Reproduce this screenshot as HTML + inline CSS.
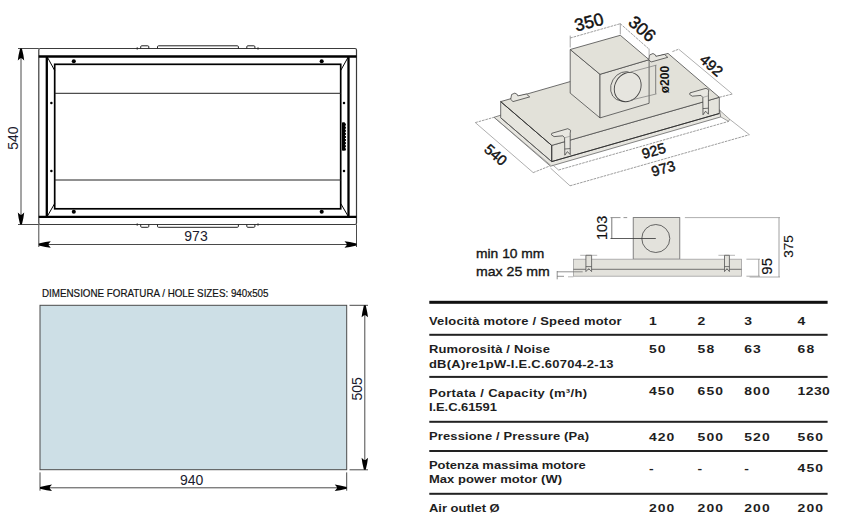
<!DOCTYPE html>
<html><head><meta charset="utf-8"><style>
html,body{margin:0;padding:0;background:#fff;width:865px;height:526px;overflow:hidden}
svg{display:block;position:absolute;left:0;top:0}
</style></head><body>
<svg width="865" height="526" viewBox="0 0 865 526">
<line x1="18" y1="48.5" x2="38.8" y2="48.5" stroke="#4a4a4a" stroke-width="1"/>
<line x1="18" y1="224.5" x2="38.8" y2="224.5" stroke="#4a4a4a" stroke-width="1"/>
<line x1="21" y1="50" x2="21" y2="223" stroke="#4a4a4a" stroke-width="1"/>
<path d="M21.90,48.50 L23.40,55.10 L24.20,60.50 L21.70,58.34 L20.30,58.34 L17.80,60.50 L18.60,55.10 L20.10,48.50 Z" fill="#000"/>
<path d="M20.10,224.50 L18.60,217.90 L17.80,212.50 L20.30,214.66 L21.70,214.66 L24.20,212.50 L23.40,217.90 L21.90,224.50 Z" fill="#000"/>
<text x="0" y="0" transform="translate(18.3,138.2) rotate(-90)" text-anchor="middle" font-family='"Liberation Sans", sans-serif' font-size="14" fill="#1b1b2e">540</text>
<line x1="38.8" y1="224.5" x2="38.8" y2="247" stroke="#4a4a4a" stroke-width="1"/>
<line x1="356.5" y1="224.5" x2="356.5" y2="247" stroke="#4a4a4a" stroke-width="1"/>
<line x1="40" y1="244.5" x2="355" y2="244.5" stroke="#4a4a4a" stroke-width="1"/>
<path d="M38.80,243.60 L45.40,242.10 L50.80,241.30 L48.64,243.80 L48.64,245.20 L50.80,247.70 L45.40,246.90 L38.80,245.40 Z" fill="#000"/>
<path d="M356.50,245.40 L349.90,246.90 L344.50,247.70 L346.66,245.20 L346.66,243.80 L344.50,241.30 L349.90,242.10 L356.50,243.60 Z" fill="#000"/>
<text x="196" y="241" text-anchor="middle" font-family='"Liberation Sans", sans-serif' font-size="14" fill="#1b1b2e">973</text>
<rect x="38.8" y="48.5" width="317.7" height="176" rx="1.5" fill="none" stroke="#3a3a3a" stroke-width="1.2"/>
<path d="M140.7,48.5 L140.7,46.8 Q140.7,45.8 141.7,45.8 L147.8,45.8 Q148.8,45.8 148.8,46.8 L148.8,48.5" fill="none" stroke="#222" stroke-width="1"/>
<path d="M140.7,224.5 L140.7,226.3 Q140.7,227.3 141.7,227.3 L147.8,227.3 Q148.8,227.3 148.8,226.3 L148.8,224.5" fill="none" stroke="#222" stroke-width="1"/>
<path d="M157.5,48.5 L157.5,46.8 Q157.5,45.8 158.5,45.8 L237.4,45.8 Q238.4,45.8 238.4,46.8 L238.4,48.5" fill="none" stroke="#222" stroke-width="1"/>
<path d="M157.5,224.5 L157.5,226.3 Q157.5,227.3 158.5,227.3 L237.4,227.3 Q238.4,227.3 238.4,226.3 L238.4,224.5" fill="none" stroke="#222" stroke-width="1"/>
<path d="M246.8,48.5 L246.8,46.8 Q246.8,45.8 247.8,45.8 L253.9,45.8 Q254.9,45.8 254.9,46.8 L254.9,48.5" fill="none" stroke="#222" stroke-width="1"/>
<path d="M246.8,224.5 L246.8,226.3 Q246.8,227.3 247.8,227.3 L253.9,227.3 Q254.9,227.3 254.9,226.3 L254.9,224.5" fill="none" stroke="#222" stroke-width="1"/>
<line x1="137.2" y1="47.3" x2="137.2" y2="49.6" stroke="#222" stroke-width="1"/>
<line x1="137.2" y1="223.4" x2="137.2" y2="225.7" stroke="#222" stroke-width="1"/>
<line x1="258.0" y1="47.3" x2="258.0" y2="49.6" stroke="#222" stroke-width="1"/>
<line x1="258.0" y1="223.4" x2="258.0" y2="225.7" stroke="#222" stroke-width="1"/>
<line x1="38.8" y1="56.5" x2="356.5" y2="56.5" stroke="#000" stroke-width="2.3"/>
<line x1="38.8" y1="216.8" x2="356.5" y2="216.8" stroke="#000" stroke-width="2.3"/>
<line x1="46.8" y1="56.5" x2="46.8" y2="216.8" stroke="#000" stroke-width="2.3"/>
<line x1="348.5" y1="56.5" x2="348.5" y2="216.8" stroke="#000" stroke-width="2.3"/>
<rect x="54.7" y="64.3" width="286" height="144.5" fill="none" stroke="#000" stroke-width="1.7"/>
<line x1="54.7" y1="93.3" x2="340.7" y2="93.3" stroke="#222" stroke-width="1"/>
<line x1="54.7" y1="180" x2="340.7" y2="180" stroke="#222" stroke-width="1"/>
<path d="M47,56.5 L54.7,70.5 M348.5,56.5 L340.7,70.5 M47,216.8 L54.7,203.5 M348.5,216.8 L340.7,203.5" stroke="#000" stroke-width="1"/>
<circle cx="73.8" cy="61.3" r="2.05" fill="#000"/>
<circle cx="321.7" cy="61.3" r="2.05" fill="#000"/>
<circle cx="73.8" cy="211.8" r="2.05" fill="#000"/>
<circle cx="321.7" cy="211.8" r="2.05" fill="#000"/>
<circle cx="51.4" cy="103" r="1.25" fill="#000"/>
<circle cx="344" cy="103" r="1.25" fill="#000"/>
<circle cx="51.4" cy="171" r="1.25" fill="#000"/>
<circle cx="344" cy="171" r="1.25" fill="#000"/>
<rect x="342.0" y="122.3" width="3.0" height="28.5" rx="0.8" fill="#000"/>
<rect x="344.6" y="123.5" width="1.3" height="2.1" fill="#000"/>
<rect x="344.6" y="126.6" width="1.3" height="2.1" fill="#000"/>
<rect x="344.6" y="129.7" width="1.3" height="2.1" fill="#000"/>
<rect x="344.6" y="132.8" width="1.3" height="2.1" fill="#000"/>
<rect x="344.6" y="135.9" width="1.3" height="2.1" fill="#000"/>
<rect x="344.6" y="139.0" width="1.3" height="2.1" fill="#000"/>
<rect x="344.6" y="142.1" width="1.3" height="2.1" fill="#000"/>
<rect x="344.6" y="145.2" width="1.3" height="2.1" fill="#000"/>
<rect x="344.6" y="148.3" width="1.3" height="2.1" fill="#000"/>
<text x="42.0" y="297.0" font-family='"Liberation Sans", sans-serif' font-size="11.2" fill="#111" stroke="#111" stroke-width="0.2" textLength="226.5" lengthAdjust="spacingAndGlyphs">DIMENSIONE FORATURA / HOLE SIZES: 940x505</text>
<rect x="40" y="305.3" width="306.7" height="164.4" fill="#cddfe6" stroke="#4a4a4a" stroke-width="1"/>
<line x1="349.5" y1="305.3" x2="368" y2="305.3" stroke="#4a4a4a" stroke-width="1"/>
<line x1="349.5" y1="469.8" x2="368" y2="469.8" stroke="#4a4a4a" stroke-width="1"/>
<line x1="364.8" y1="307" x2="364.8" y2="468" stroke="#4a4a4a" stroke-width="1"/>
<path d="M365.70,305.30 L367.20,311.90 L368.00,317.30 L365.50,315.14 L364.10,315.14 L361.60,317.30 L362.40,311.90 L363.90,305.30 Z" fill="#000"/>
<path d="M363.90,469.80 L362.40,463.20 L361.60,457.80 L364.10,459.96 L365.50,459.96 L368.00,457.80 L367.20,463.20 L365.70,469.80 Z" fill="#000"/>
<line x1="40" y1="472.4" x2="40" y2="490.7" stroke="#4a4a4a" stroke-width="1"/>
<line x1="346.7" y1="472.4" x2="346.7" y2="490.7" stroke="#4a4a4a" stroke-width="1"/>
<line x1="41" y1="487.8" x2="345" y2="487.8" stroke="#4a4a4a" stroke-width="1"/>
<path d="M40.00,486.90 L46.60,485.40 L52.00,484.60 L49.84,487.10 L49.84,488.50 L52.00,491.00 L46.60,490.20 L40.00,488.70 Z" fill="#000"/>
<path d="M346.70,488.70 L340.10,490.20 L334.70,491.00 L336.86,488.50 L336.86,487.10 L334.70,484.60 L340.10,485.40 L346.70,486.90 Z" fill="#000"/>
<text x="0" y="0" transform="translate(362,388.9) rotate(-90)" text-anchor="middle" font-family='"Liberation Sans", sans-serif' font-size="14" fill="#1b1b2e">505</text>
<text x="191.7" y="484.7" text-anchor="middle" font-family='"Liberation Sans", sans-serif' font-size="14" fill="#1b1b2e">940</text>
<polygon points="494.00,117.30 550.50,166.20 720.80,116.90 719.70,110.00 668.00,62.00" fill="#e7e6e0" stroke="#555" stroke-width="0.7" stroke-linejoin="round" />
<line x1="495.20" y1="118.30" x2="550.80" y2="165.30" stroke="#777" stroke-width="0.6" />
<polygon points="719.70,110.30 729.60,119.20 728.60,121.40 720.60,116.80" fill="#e9e8e2" stroke="#666" stroke-width="0.6" stroke-linejoin="round" />
<polygon points="500.70,101.60 551.70,145.40 551.70,161.60 500.70,117.80" fill="#e6e5de" stroke="#4a4a4a" stroke-width="0.8" stroke-linejoin="round" />
<polygon points="551.70,145.40 719.30,97.30 719.30,113.50 551.70,161.60" fill="#e4e3dc" stroke="#4a4a4a" stroke-width="0.8" stroke-linejoin="round" />
<polygon points="500.70,101.60 668.00,53.40 719.30,97.30 551.70,145.40" fill="#e2e1d9" stroke="#4a4a4a" stroke-width="0.8" stroke-linejoin="round" />
<line x1="551.70" y1="145.40" x2="551.70" y2="161.60" stroke="#444" stroke-width="1.1" />
<line x1="500.70" y1="117.80" x2="551.70" y2="161.60" stroke="#555" stroke-width="0.8" />
<line x1="500.70" y1="101.60" x2="551.70" y2="145.40" stroke="#333" stroke-width="0.9" />
<line x1="551.70" y1="161.60" x2="719.30" y2="113.50" stroke="#333" stroke-width="1.0" />
<polygon points="570.20,49.50 600.00,74.30 600.00,117.90 570.20,93.10" fill="#e6e5de" stroke="#4a4a4a" stroke-width="0.8" stroke-linejoin="round" />
<polygon points="600.00,74.30 649.10,59.70 649.10,103.30 600.00,117.90" fill="#e4e3dc" stroke="#4a4a4a" stroke-width="0.8" stroke-linejoin="round" />
<polygon points="570.20,49.50 620.30,35.30 649.10,59.70 600.00,74.30" fill="#e2e1d9" stroke="#4a4a4a" stroke-width="0.8" stroke-linejoin="round" />
<ellipse cx="624.0" cy="86.3" rx="12.8" ry="15.2" transform="rotate(30 624.0 86.3)" fill="#e4e3dc" stroke="#555" stroke-width="0.8"/>
<ellipse cx="627.7" cy="87.1" rx="12.8" ry="15.2" transform="rotate(30 627.7 87.1)" fill="#e6e5df" stroke="#444" stroke-width="0.9"/>
<polygon points="510.70,99.30 511.60,94.50 514.90,93.10 517.30,94.50 517.80,95.90 526.30,94.00 529.70,96.90 513.00,101.60" fill="#e8e7e1" stroke="#3a3a3a" stroke-width="0.75" stroke-linejoin="round" />
<polygon points="648.80,59.70 649.70,54.90 653.00,53.50 655.40,54.90 655.90,56.30 664.40,54.40 667.80,57.30 651.10,62.00" fill="#e8e7e1" stroke="#3a3a3a" stroke-width="0.75" stroke-linejoin="round" />
<polygon points="551.80,133.30 567.80,128.70 570.60,130.30 570.20,133.20 570.20,154.60 567.40,151.60 564.80,155.20 564.60,137.80 562.80,135.80 554.10,136.60 551.40,134.80" fill="#e8e7e1" stroke="#3a3a3a" stroke-width="0.75" stroke-linejoin="round" /><line x1="564.70" y1="149.00" x2="570.20" y2="148.60" stroke="#3a3a3a" stroke-width="0.7" /><line x1="564.60" y1="137.80" x2="570.20" y2="136.20" stroke="#777" stroke-width="0.5" />
<polygon points="690.00,92.90 706.00,88.30 708.80,89.90 708.40,92.80 708.40,114.20 705.60,111.20 703.00,114.80 702.80,97.40 701.00,95.40 692.30,96.20 689.60,94.40" fill="#e8e7e1" stroke="#3a3a3a" stroke-width="0.75" stroke-linejoin="round" /><line x1="702.90" y1="108.60" x2="708.40" y2="108.20" stroke="#3a3a3a" stroke-width="0.7" /><line x1="702.80" y1="97.40" x2="708.40" y2="95.80" stroke="#777" stroke-width="0.5" />
<line x1="570.20" y1="38.00" x2="620.30" y2="23.70" stroke="#7c7c7c" stroke-width="0.75" stroke-dasharray="2.6,0.9"/>
<line x1="620.30" y1="23.70" x2="648.80" y2="48.90" stroke="#7c7c7c" stroke-width="0.75" stroke-dasharray="2.6,0.9"/>
<line x1="672.40" y1="51.60" x2="678.70" y2="49.20" stroke="#7c7c7c" stroke-width="0.75" stroke-dasharray="2.6,0.9"/>
<line x1="678.70" y1="49.20" x2="732.40" y2="94.00" stroke="#8c8c8c" stroke-width="0.7" />
<line x1="719.30" y1="97.30" x2="732.40" y2="94.00" stroke="#7c7c7c" stroke-width="0.75" stroke-dasharray="2.6,0.9"/>
<line x1="475.30" y1="122.60" x2="494.00" y2="117.30" stroke="#7c7c7c" stroke-width="0.75" stroke-dasharray="2.6,0.9"/>
<line x1="475.30" y1="122.60" x2="533.20" y2="172.60" stroke="#8c8c8c" stroke-width="0.7" />
<line x1="533.20" y1="172.60" x2="549.90" y2="165.90" stroke="#7c7c7c" stroke-width="0.75" stroke-dasharray="2.6,0.9"/>
<line x1="558.60" y1="170.00" x2="728.60" y2="121.40" stroke="#7c7c7c" stroke-width="0.75" stroke-dasharray="2.6,0.9"/>
<line x1="552.80" y1="165.00" x2="558.60" y2="170.00" stroke="#8c8c8c" stroke-width="0.7" />
<line x1="570.00" y1="185.80" x2="749.40" y2="134.70" stroke="#7c7c7c" stroke-width="0.75" stroke-dasharray="2.6,0.9"/>
<line x1="550.50" y1="168.10" x2="570.00" y2="185.80" stroke="#8c8c8c" stroke-width="0.7" />
<line x1="729.60" y1="119.20" x2="749.40" y2="134.70" stroke="#8c8c8c" stroke-width="0.7" />
<line x1="570.20" y1="35.60" x2="570.20" y2="47.50" stroke="#7c7c7c" stroke-width="0.7" />
<line x1="620.30" y1="23.50" x2="620.30" y2="34.30" stroke="#7c7c7c" stroke-width="0.7" />
<line x1="649.10" y1="48.70" x2="649.10" y2="59.70" stroke="#999" stroke-width="0.8" />
<line x1="655.70" y1="65.30" x2="655.70" y2="93.80" stroke="#666" stroke-width="0.8" />
<line x1="630.30" y1="72.10" x2="656.50" y2="65.10" stroke="#777" stroke-width="0.7" />
<line x1="630.80" y1="100.10" x2="656.50" y2="93.90" stroke="#777" stroke-width="0.7" />
<text x="0" y="0" transform="translate(588.9,21.8) rotate(-14.5)" dy="6.26" text-anchor="middle" font-family='"Liberation Sans", sans-serif' font-size="17.5" font-weight="normal" fill="#111" stroke="#111" stroke-width="0.45">350</text>
<text x="0" y="0" transform="translate(642.4,28.7) rotate(41.4)" dy="6.26" text-anchor="middle" font-family='"Liberation Sans", sans-serif' font-size="17.5" font-weight="normal" fill="#111" stroke="#111" stroke-width="0.45">306</text>
<text x="0" y="0" transform="translate(711.6,65.2) rotate(41.2)" dy="5.30" text-anchor="middle" font-family='"Liberation Sans", sans-serif' font-size="14.8" font-weight="normal" fill="#111" stroke="#111" stroke-width="0.45">492</text>
<text x="0" y="0" transform="translate(664.9,79.6) rotate(-90)" dy="4.30" text-anchor="middle" font-family='"Liberation Sans", sans-serif' font-size="12" font-weight="bold" fill="#111" stroke="#111" stroke-width="0">ø200</text>
<text x="0" y="0" transform="translate(495.9,154.6) rotate(40.8)" dy="5.19" text-anchor="middle" font-family='"Liberation Sans", sans-serif' font-size="14.5" font-weight="normal" fill="#111" stroke="#111" stroke-width="0.45">540</text>
<text x="0" y="0" transform="translate(653.6,150.7) rotate(-16)" dy="5.19" text-anchor="middle" font-family='"Liberation Sans", sans-serif' font-size="14.5" font-weight="normal" fill="#111" stroke="#111" stroke-width="0.45">925</text>
<text x="0" y="0" transform="translate(663.2,168.3) rotate(-16)" dy="5.19" text-anchor="middle" font-family='"Liberation Sans", sans-serif' font-size="14.5" font-weight="normal" fill="#111" stroke="#111" stroke-width="0.45">973</text>
<rect x="633.2" y="217.6" width="46.6" height="41.6" fill="#e3e2dc" stroke="#666" stroke-width="0.8"/>
<circle cx="655.8" cy="238.5" r="14.0" fill="none" stroke="#444" stroke-width="0.8"/>
<rect x="573.4" y="259.2" width="168.1" height="17" fill="#e3e2dc" stroke="#a0a0a0" stroke-width="0.8"/>
<line x1="573.4" y1="269.3" x2="741.5" y2="269.3" stroke="#555" stroke-width="0.8"/>
<line x1="580.2" y1="255.3" x2="597.2" y2="255.3" stroke="#999" stroke-width="0.7"/>
<path d="M585.9,255.3 L585.9,271.6 L588.75,268.6 L591.6,271.6 L591.6,255.3 Z" fill="#e3e2dc" stroke="#555" stroke-width="0.8"/>
<line x1="585.9" y1="266.6" x2="591.6" y2="266.6" stroke="#555" stroke-width="0.8"/>
<line x1="718.4" y1="255.3" x2="735.0" y2="255.3" stroke="#999" stroke-width="0.7"/>
<path d="M724.5,255.3 L724.5,271.6 L726.95,268.6 L729.4,271.6 L729.4,255.3 Z" fill="#e3e2dc" stroke="#555" stroke-width="0.8"/>
<line x1="724.5" y1="266.6" x2="729.4" y2="266.6" stroke="#555" stroke-width="0.8"/>
<line x1="611.8" y1="217.6" x2="611.8" y2="238.5" stroke="#555" stroke-width="0.8"/>
<line x1="610.5" y1="217.6" x2="627.2" y2="217.6" stroke="#777" stroke-width="0.8" stroke-dasharray="10,3"/>
<line x1="610.5" y1="238.5" x2="655.8" y2="238.5" stroke="#333" stroke-width="0.8"/>
<text x="0" y="0" transform="translate(601.8,227.9) rotate(-90)" dy="5.19" text-anchor="middle" font-family='"Liberation Sans", sans-serif' font-size="14.5" font-weight="normal" fill="#111" stroke="#111" stroke-width="0.15">103</text>
<line x1="684.9" y1="217.6" x2="780" y2="217.6" stroke="#999" stroke-width="0.8"/>
<line x1="749.6" y1="277" x2="780" y2="277" stroke="#999" stroke-width="0.8"/>
<line x1="779" y1="217.6" x2="779" y2="277" stroke="#888" stroke-width="0.8"/>
<text x="0" y="0" transform="translate(787.8,246.6) rotate(-90)" dy="4.83" text-anchor="middle" font-family='"Liberation Sans", sans-serif' font-size="13.5" font-weight="normal" fill="#111" stroke="#111" stroke-width="0.15">375</text>
<line x1="746.4" y1="259.2" x2="760" y2="259.2" stroke="#999" stroke-width="0.8"/>
<line x1="746.4" y1="276.2" x2="760" y2="276.2" stroke="#999" stroke-width="0.8"/>
<line x1="758.8" y1="259.2" x2="758.8" y2="276.2" stroke="#888" stroke-width="0.8"/>
<text x="0" y="0" transform="translate(766.6,266.3) rotate(-90)" dy="5.37" text-anchor="middle" font-family='"Liberation Sans", sans-serif' font-size="15" font-weight="normal" fill="#111" stroke="#111" stroke-width="0.15">95</text>
<text x="476" y="258.3" font-family='"Liberation Sans", sans-serif' font-size="13" fill="#161616" stroke="#161616" stroke-width="0.35" textLength="68.4" lengthAdjust="spacingAndGlyphs">min 10 mm</text>
<text x="476" y="275.9" font-family='"Liberation Sans", sans-serif' font-size="13" fill="#161616" stroke="#161616" stroke-width="0.35" textLength="73.7" lengthAdjust="spacingAndGlyphs">max 25 mm</text>
<line x1="557.2" y1="271" x2="557.2" y2="279.3" stroke="#777" stroke-width="0.8"/>
<line x1="557" y1="271.8" x2="582.7" y2="271.8" stroke="#777" stroke-width="0.8"/>
<line x1="557" y1="276.3" x2="564" y2="276.3" stroke="#777" stroke-width="0.8"/>
<line x1="568" y1="276.8" x2="573.4" y2="276.8" stroke="#aaa" stroke-width="0.8"/>
<rect x="429.3" y="300.8" width="398.3" height="3" fill="#111"/>
<rect x="429.3" y="333.8" width="398.3" height="2" fill="#222"/>
<rect x="429.3" y="375.9" width="398.3" height="2" fill="#222"/>
<rect x="429.3" y="420.8" width="398.3" height="2" fill="#222"/>
<rect x="429.3" y="450.0" width="398.3" height="2" fill="#222"/>
<rect x="429.3" y="492.8" width="398.3" height="2" fill="#222"/>
<text x="0" y="0" transform="translate(428.9,325.0) scale(1.1,1)" font-family='"Liberation Sans", sans-serif' font-size="11.8" font-weight="bold" fill="#1e1e1e" textLength="175.18" lengthAdjust="spacing">Velocità motore / Speed motor</text>
<text x="0" y="0" transform="translate(428.9,353.3) scale(1.1,1)" font-family='"Liberation Sans", sans-serif' font-size="11.8" font-weight="bold" fill="#1e1e1e" textLength="110.00" lengthAdjust="spacing">Rumorosità / Noise</text>
<text x="0" y="0" transform="translate(428.9,367.6) scale(1.1,1)" font-family='"Liberation Sans", sans-serif' font-size="11.8" font-weight="bold" fill="#1e1e1e" textLength="167.91" lengthAdjust="spacing">dB(A)re1pW-I.E.C.60704-2-13</text>
<text x="0" y="0" transform="translate(428.9,396.6) scale(1.1,1)" font-family='"Liberation Sans", sans-serif' font-size="11.8" font-weight="bold" fill="#1e1e1e" textLength="143.82" lengthAdjust="spacing">Portata / Capacity (m³/h)</text>
<text x="0" y="0" transform="translate(428.9,411.1) scale(1.1,1)" font-family='"Liberation Sans", sans-serif' font-size="11.8" font-weight="bold" fill="#1e1e1e" textLength="61.82" lengthAdjust="spacing">I.E.C.61591</text>
<text x="0" y="0" transform="translate(428.9,440.2) scale(1.1,1)" font-family='"Liberation Sans", sans-serif' font-size="11.8" font-weight="bold" fill="#1e1e1e" textLength="145.55" lengthAdjust="spacing">Pressione / Pressure (Pa)</text>
<text x="0" y="0" transform="translate(428.9,468.8) scale(1.1,1)" font-family='"Liberation Sans", sans-serif' font-size="11.8" font-weight="bold" fill="#1e1e1e" textLength="142.55" lengthAdjust="spacing">Potenza massima motore</text>
<text x="0" y="0" transform="translate(428.9,483.2) scale(1.1,1)" font-family='"Liberation Sans", sans-serif' font-size="11.8" font-weight="bold" fill="#1e1e1e" textLength="121.09" lengthAdjust="spacing">Max power motor (W)</text>
<text x="0" y="0" transform="translate(428.9,511.8) scale(1.1,1)" font-family='"Liberation Sans", sans-serif' font-size="11.8" font-weight="bold" fill="#1e1e1e" textLength="64.36" lengthAdjust="spacing">Air outlet Ø</text>
<text x="0" y="0" transform="translate(648.9,324.6) scale(1.2,1)" font-family='"Liberation Sans", sans-serif' font-size="11.6" font-weight="bold" fill="#1e1e1e" letter-spacing="0.9">1</text>
<text x="0" y="0" transform="translate(697.6,324.6) scale(1.2,1)" font-family='"Liberation Sans", sans-serif' font-size="11.6" font-weight="bold" fill="#1e1e1e" letter-spacing="0.9">2</text>
<text x="0" y="0" transform="translate(744.3,324.6) scale(1.2,1)" font-family='"Liberation Sans", sans-serif' font-size="11.6" font-weight="bold" fill="#1e1e1e" letter-spacing="0.9">3</text>
<text x="0" y="0" transform="translate(797.6,324.6) scale(1.2,1)" font-family='"Liberation Sans", sans-serif' font-size="11.6" font-weight="bold" fill="#1e1e1e" letter-spacing="0.9">4</text>
<text x="0" y="0" transform="translate(648.9,353.2) scale(1.2,1)" font-family='"Liberation Sans", sans-serif' font-size="11.6" font-weight="bold" fill="#1e1e1e" letter-spacing="0.9">50</text>
<text x="0" y="0" transform="translate(697.6,353.2) scale(1.2,1)" font-family='"Liberation Sans", sans-serif' font-size="11.6" font-weight="bold" fill="#1e1e1e" letter-spacing="0.9">58</text>
<text x="0" y="0" transform="translate(744.3,353.2) scale(1.2,1)" font-family='"Liberation Sans", sans-serif' font-size="11.6" font-weight="bold" fill="#1e1e1e" letter-spacing="0.9">63</text>
<text x="0" y="0" transform="translate(797.6,353.2) scale(1.2,1)" font-family='"Liberation Sans", sans-serif' font-size="11.6" font-weight="bold" fill="#1e1e1e" letter-spacing="0.9">68</text>
<text x="0" y="0" transform="translate(648.9,395.2) scale(1.2,1)" font-family='"Liberation Sans", sans-serif' font-size="11.6" font-weight="bold" fill="#1e1e1e" letter-spacing="0.9">450</text>
<text x="0" y="0" transform="translate(697.6,395.2) scale(1.2,1)" font-family='"Liberation Sans", sans-serif' font-size="11.6" font-weight="bold" fill="#1e1e1e" letter-spacing="0.9">650</text>
<text x="0" y="0" transform="translate(744.3,395.2) scale(1.2,1)" font-family='"Liberation Sans", sans-serif' font-size="11.6" font-weight="bold" fill="#1e1e1e" letter-spacing="0.9">800</text>
<text x="0" y="0" transform="translate(797.6,395.2) scale(1.2,1)" font-family='"Liberation Sans", sans-serif' font-size="11.6" font-weight="bold" fill="#1e1e1e" letter-spacing="0.35">1230</text>
<text x="0" y="0" transform="translate(648.9,440.6) scale(1.2,1)" font-family='"Liberation Sans", sans-serif' font-size="11.6" font-weight="bold" fill="#1e1e1e" letter-spacing="0.9">420</text>
<text x="0" y="0" transform="translate(697.6,440.6) scale(1.2,1)" font-family='"Liberation Sans", sans-serif' font-size="11.6" font-weight="bold" fill="#1e1e1e" letter-spacing="0.9">500</text>
<text x="0" y="0" transform="translate(744.3,440.6) scale(1.2,1)" font-family='"Liberation Sans", sans-serif' font-size="11.6" font-weight="bold" fill="#1e1e1e" letter-spacing="0.9">520</text>
<text x="0" y="0" transform="translate(797.6,440.6) scale(1.2,1)" font-family='"Liberation Sans", sans-serif' font-size="11.6" font-weight="bold" fill="#1e1e1e" letter-spacing="0.9">560</text>
<text x="0" y="0" transform="translate(648.9,472.0) scale(1.2,1)" font-family='"Liberation Sans", sans-serif' font-size="11.6" font-weight="bold" fill="#1e1e1e" letter-spacing="0.9">-</text>
<text x="0" y="0" transform="translate(697.6,472.0) scale(1.2,1)" font-family='"Liberation Sans", sans-serif' font-size="11.6" font-weight="bold" fill="#1e1e1e" letter-spacing="0.9">-</text>
<text x="0" y="0" transform="translate(744.3,472.0) scale(1.2,1)" font-family='"Liberation Sans", sans-serif' font-size="11.6" font-weight="bold" fill="#1e1e1e" letter-spacing="0.9">-</text>
<text x="0" y="0" transform="translate(797.6,472.0) scale(1.2,1)" font-family='"Liberation Sans", sans-serif' font-size="11.6" font-weight="bold" fill="#1e1e1e" letter-spacing="0.9">450</text>
<text x="0" y="0" transform="translate(648.9,511.6) scale(1.2,1)" font-family='"Liberation Sans", sans-serif' font-size="11.6" font-weight="bold" fill="#1e1e1e" letter-spacing="0.9">200</text>
<text x="0" y="0" transform="translate(697.6,511.6) scale(1.2,1)" font-family='"Liberation Sans", sans-serif' font-size="11.6" font-weight="bold" fill="#1e1e1e" letter-spacing="0.9">200</text>
<text x="0" y="0" transform="translate(744.3,511.6) scale(1.2,1)" font-family='"Liberation Sans", sans-serif' font-size="11.6" font-weight="bold" fill="#1e1e1e" letter-spacing="0.9">200</text>
<text x="0" y="0" transform="translate(797.6,511.6) scale(1.2,1)" font-family='"Liberation Sans", sans-serif' font-size="11.6" font-weight="bold" fill="#1e1e1e" letter-spacing="0.9">200</text>
</svg>
</body></html>
